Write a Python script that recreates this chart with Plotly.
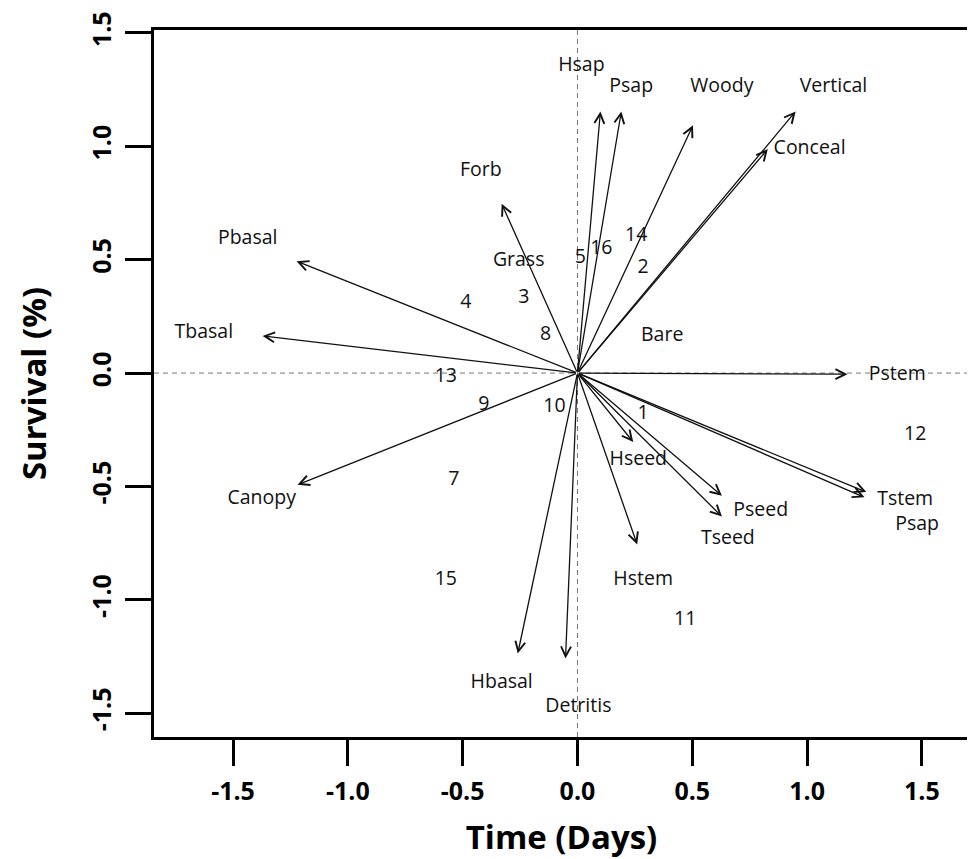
import plotly.graph_objects as go

# ---- data ----
var_names = ["Hsap", "Psap", "Woody", "Vertical", "Conceal", "Forb", "Pbasal", "Tbasal",
             "Pstem", "Canopy", "Hbasal", "Detritis", "Hseed", "Pseed", "Tseed", "Hstem",
             "Tstem", "Psap", "Grass", "Bare"]
arrow_x = [0.100, 0.191, 0.503, 0.950, 0.829, -0.330, -1.223, -1.371,
           1.176, -1.219, -0.260, -0.052, 0.243, 0.629, 0.629, 0.260,
           1.258, 1.250, None, None]
arrow_y = [1.154, 1.154, 1.093, 1.154, 0.988, 0.747, 0.493, 0.164,
           -0.005, -0.493, -1.237, -1.259, -0.304, -0.541, -0.633, -0.756,
           -0.525, -0.548, None, None]
label_x = [0.017, 0.234, 0.629, 1.115, 1.011, -0.421, -1.436, -1.627,
           1.393, -1.375, -0.330, 0.004, 0.265, 0.798, 0.655, 0.286,
           1.427, 1.479, -0.256, 0.369]
label_y = [1.352, 1.259, 1.259, 1.259, 0.988, 0.892, 0.589, 0.177,
           -0.011, -0.554, -1.369, -1.474, -0.383, -0.611, -0.734, -0.913,
           -0.562, -0.672, 0.493, 0.164]

site_labels = ["1", "2", "3", "4", "5", "7", "8", "9", "10", "11", "12", "13", "14", "15", "16"]
site_x = [0.286, 0.286, -0.234, -0.486, 0.013, -0.538, -0.139, -0.408, -0.100, 0.469,
          1.471, -0.573, 0.256, -0.573, 0.104]
site_y = [-0.182, 0.462, 0.331, 0.309, 0.506, -0.471, 0.169, -0.142, -0.151, -1.089,
          -0.274, -0.020, 0.602, -0.913, 0.545]

tick_vals = [-1.5, -1.0, -0.5, 0.0, 0.5, 1.0, 1.5]
tick_text = ["-1.5", "-1.0", "-0.5", "0.0", "0.5", "1.0", "1.5"]
x_range = [-1.844, 1.705]
y_range = [-1.605, 1.513]

FONT = "Open Sans"

fig = go.Figure()

# reference dashed lines
fig.add_hline(y=0, line=dict(color="#777777", width=1, dash="5px,4px"), layer="below")
fig.add_vline(x=0, line=dict(color="#777777", width=1, dash="5px,4px"), layer="below")

# arrows
for ax_, ay_ in zip(arrow_x, arrow_y):
    if ax_ is None:
        continue
    fig.add_annotation(x=ax_, y=ay_, ax=0, ay=0, xref="x", yref="y", axref="x", ayref="y",
                       text="", showarrow=True, arrowhead=5, arrowsize=1.5,
                       arrowwidth=1.3, arrowcolor="#111111", standoff=0, startstandoff=0)

# variable labels
fig.add_trace(go.Scatter(x=label_x, y=label_y, mode="text", text=var_names,
                         textposition="middle center",
                         textfont=dict(family=FONT, size=19.5, color="#111111"),
                         hoverinfo="skip", showlegend=False))
# site numbers
fig.add_trace(go.Scatter(x=site_x, y=site_y, mode="text", text=site_labels,
                         textposition="middle center",
                         textfont=dict(family=FONT, size=19.5, color="#111111"),
                         hoverinfo="skip", showlegend=False))

axis_common = dict(showgrid=False, zeroline=False, showline=True, mirror=True,
                   linewidth=3, linecolor="black", ticks="outside", ticklen=26,
                   tickwidth=3, tickcolor="black", tickvals=tick_vals, ticktext=tick_text,
                   ticklabeloverflow="allow",
                   tickfont=dict(family=FONT, size=25, color="black", weight="bold"))

fig.update_xaxes(range=x_range, ticklabelstandoff=4,
                 title=dict(text="Time (Days)", font=dict(family=FONT, size=33, color="black", weight="bold"),
                            standoff=20),
                 **axis_common)
fig.update_yaxes(range=y_range, tickangle=-90, ticklabelstandoff=4,
                 title=dict(text="Survival (%)", font=dict(family=FONT, size=33, color="black", weight="bold"),
                            standoff=28),
                 **axis_common)

# page body adds an 8px offset; size the figure so the picture lines up
fig.update_layout(width=967, height=851, margin=dict(l=146, r=3, t=17, b=122),
                  paper_bgcolor="white", plot_bgcolor="white", showlegend=False)

fig.write_html("out.html")
